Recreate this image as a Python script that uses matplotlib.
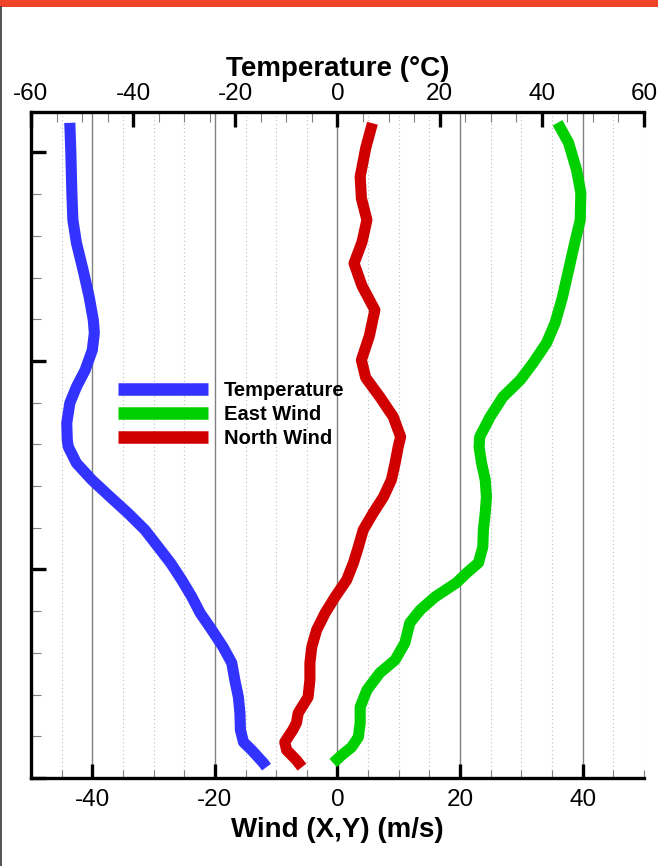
import matplotlib
matplotlib.use('Agg')
import matplotlib.pyplot as plt
from matplotlib.ticker import MultipleLocator
from matplotlib.patches import Rectangle
from matplotlib.lines import Line2D

plt.rcParams['font.family'] = ['Liberation Sans', 'DejaVu Sans']
plt.rcParams['axes.unicode_minus'] = False

# profiles vs altitude (km)
temp_alt = [15.71, 14.99, 14.03, 13.38, 12.83, 12.18, 11.53, 10.98, 10.67, 10.26, 9.78, 9.38,
            8.99, 8.51, 8.11, 7.94, 7.55, 7.15, 6.74, 6.35, 5.95, 5.54, 5.16, 4.75, 4.34,
            3.96, 3.55, 3.14, 2.76, 2.35, 1.94, 1.56, 1.15, 0.86, 0.67, 0.36, 0.26]
temp_c = [-52.4, -52.2, -52.0, -51.8, -51.1, -49.8, -48.6, -47.8, -47.6, -48.0, -49.4, -51.1,
          -52.4, -53.0, -52.9, -52.7, -51.1, -48.1, -44.5, -41.0, -37.7, -35.1, -32.7, -30.5, -28.5,
          -26.9, -24.6, -22.4, -20.7, -20.1, -19.4, -19.1, -19.0, -18.4, -16.8, -14.5, -13.9]

east_alt = [15.71, 15.23, 14.58, 14.03, 13.38, 12.83, 12.18, 11.53, 10.91, 10.43, 9.95, 9.54,
            9.14, 8.66, 8.18, 7.94, 7.55, 7.15, 6.74, 6.35, 5.95, 5.54, 5.16, 4.92, 4.68,
            4.34, 4.03, 3.72, 3.24, 2.83, 2.52, 2.11, 1.70, 1.32, 0.98, 0.74, 0.55, 0.36]
east_wind = [35.9, 37.7, 39.0, 39.7, 39.6, 38.7, 37.7, 36.7, 35.5, 34.1, 31.9, 29.8,
             27.0, 24.9, 23.2, 23.1, 23.5, 24.1, 24.3, 24.1, 23.8, 23.7, 23.0, 21.1, 19.4,
             15.9, 13.5, 11.8, 11.0, 9.4, 6.9, 4.8, 3.7, 3.7, 3.4, 2.3, 0.7, -0.7]

north_alt = [15.70, 15.10, 14.42, 13.90, 13.38, 12.85, 12.34, 11.80, 11.22, 10.60, 10.02, 9.60,
             9.14, 8.66, 8.18, 7.94, 7.55, 7.15, 6.74, 6.35, 5.95, 5.54, 5.16, 4.75, 4.34,
             3.96, 3.55, 3.14, 2.76, 2.35, 1.94, 1.56, 1.32, 1.15, 0.86, 0.67, 0.43, 0.26]
north_wind = [5.7, 4.6, 3.7, 3.9, 4.8, 4.0, 2.7, 4.0, 6.1, 5.2, 3.9, 4.6,
              6.9, 9.1, 10.3, 9.9, 9.4, 8.8, 7.5, 5.8, 4.2, 3.4, 2.6, 1.5, -0.4,
              -2.0, -3.4, -4.2, -4.5, -4.5, -4.8, -6.4, -6.7, -7.3, -8.6, -8.3, -6.7, -5.8]

fig = plt.figure(figsize=(6.58, 8.66), dpi=100)
ax = fig.add_axes([0.0471, 0.1016, 0.9316, 0.7691])
ax2 = ax.twiny()

lw = 8
style = dict(lw=lw, solid_capstyle='butt', solid_joinstyle='round', zorder=3)
l_east, = ax.plot(east_wind, east_alt, color='#00D000', label='East Wind', **style)
l_north, = ax.plot(north_wind, north_alt, color='#D00000', label='North Wind', **style)
l_temp, = ax2.plot(temp_c, temp_alt, color='#3333FF', label='Temperature', **style)

ax.set_xlim(-50, 50)
ax.set_ylim(0, 15.97)
ax2.set_xlim(-60, 60)

ax.xaxis.set_major_locator(MultipleLocator(20))
ax.xaxis.set_minor_locator(MultipleLocator(5))
ax.yaxis.set_major_locator(MultipleLocator(5))
ax.yaxis.set_minor_locator(MultipleLocator(1))
ax2.xaxis.set_major_locator(MultipleLocator(20))
ax2.xaxis.set_minor_locator(MultipleLocator(5))

ax.set_axisbelow(True)
ax.grid(which='major', axis='x', color='#808080', lw=1.0, ls='-')
ax.grid(which='minor', axis='x', color='#bdbdbd', lw=0.8, ls=(0, (1, 2.5)))

ax.tick_params(axis='x', which='major', direction='in', length=10, width=2.4,
               labelsize=17.5, pad=8, top=False)
ax.tick_params(axis='x', which='minor', direction='in', length=6, width=0.8,
               color='#808080', top=False)
ax.tick_params(axis='y', which='major', direction='in', length=11, width=2.4,
               labelleft=False, right=False)
ax.tick_params(axis='y', which='minor', direction='in', length=7, width=0.8,
               color='#808080', right=False)
ax2.tick_params(axis='x', which='major', direction='in', length=11, width=2.4,
                labelsize=17.5, pad=5)
ax2.tick_params(axis='x', which='minor', direction='in', length=7, width=0.8,
                color='#808080')

for s in ['top', 'right']:
    ax.spines[s].set_visible(False)
for s in ['left', 'right', 'bottom']:
    ax2.spines[s].set_visible(False)
ax.spines['left'].set_linewidth(2.4)
ax.spines['bottom'].set_linewidth(2.4)
ax2.spines['top'].set_linewidth(2.4)

ax.set_xlabel('Wind (X,Y) (m/s)', fontsize=20, fontweight='bold', labelpad=4)
ax2.set_xlabel('Temperature (°C)', fontsize=20, fontweight='bold', labelpad=5)

leg = ax2.legend(handles=[l_temp, l_east, l_north], loc='upper left',
                 bbox_to_anchor=(118 / 658, 1 - 381 / 866), bbox_transform=fig.transFigure,
                 frameon=False, borderpad=0, borderaxespad=0, handlelength=4.45,
                 handletextpad=0.8, labelspacing=0.25,
                 prop={'size': 14.5, 'weight': 'bold'})
for h in leg.legend_handles:
    h.set_linewidth(9)

# page header strip and left border
fig.add_artist(Rectangle((0, 1 - 7 / 866), 1, 7 / 866, transform=fig.transFigure,
                         color='#EF4429', lw=0))
fig.add_artist(Line2D([0.0015, 0.0015], [0, 1 - 7 / 866], transform=fig.transFigure,
                      color='#333333', lw=1.2))

fig.savefig('out.png', dpi=100)
